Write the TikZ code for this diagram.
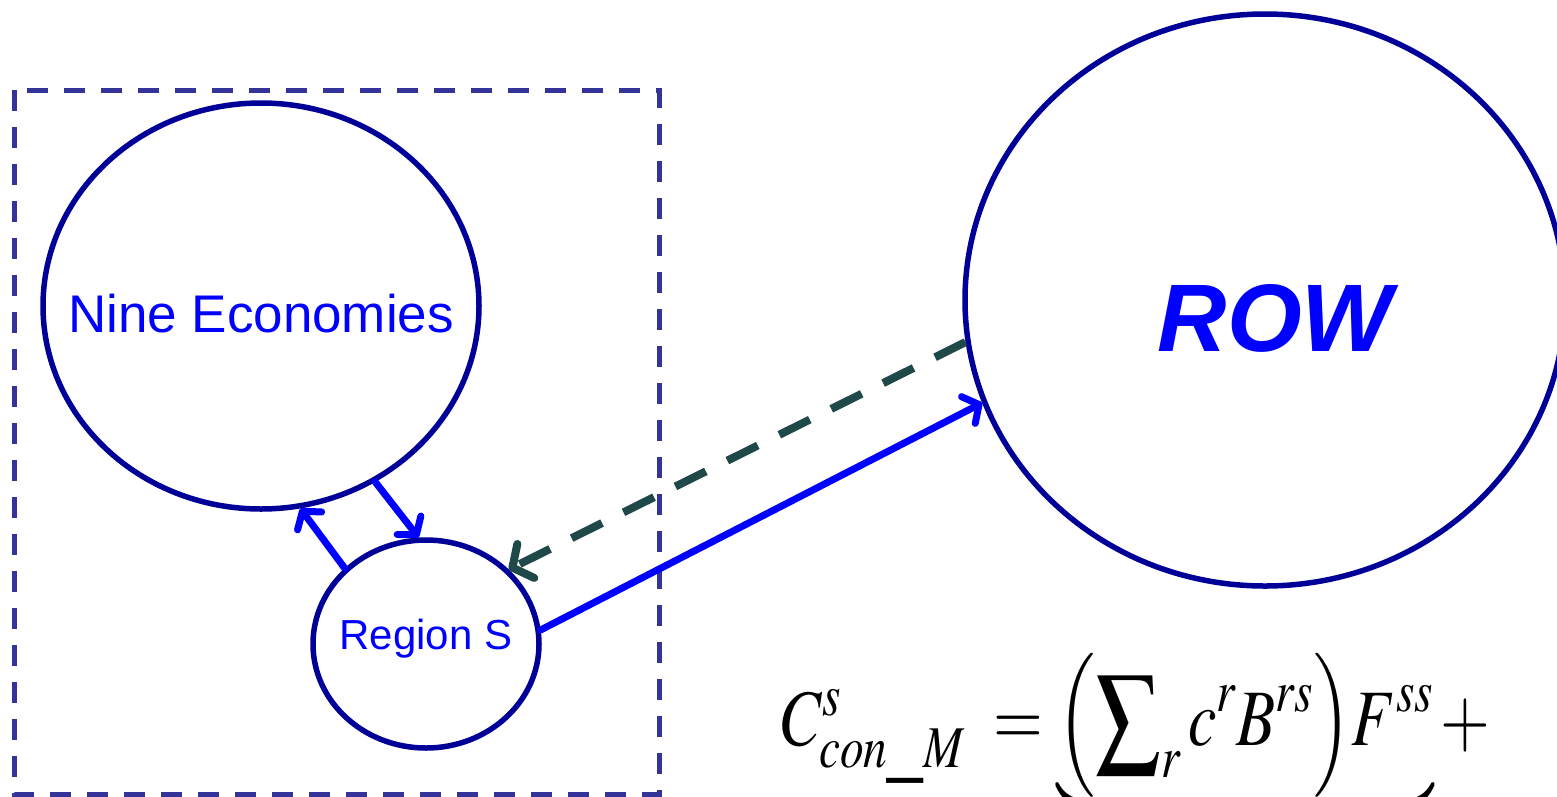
\documentclass[tikz,border=0pt]{standalone}
\usepackage{mathptmx}
\usepackage{fontspec}
\setmainfont{Liberation Sans}
\usetikzlibrary{shapes.geometric,arrows.meta}
\definecolor{ellcol}{RGB}{0,0,153}
\definecolor{boxcol}{RGB}{51,51,153}
\definecolor{txtblue}{RGB}{0,0,255}
\definecolor{dashcol}{RGB}{31,73,72}
\tikzset{
  ell/.style={draw=ellcol, line width=5.5pt, ellipse, inner sep=0pt, text=txtblue},
  bluearrow/.style={draw=txtblue, line width=7pt, line cap=round,
    -{Straight Barb[length=12pt,width=30pt,line cap=round,line join=round]}},
  dasharrow/.style={draw=dashcol, line width=8pt, dash pattern=on 34pt off 24pt,
    -{Straight Barb[length=15pt,width=38pt,line cap=round,line join=round]}},
  groupbox/.style={draw=boxcol, line width=5pt, dash pattern=on 21pt off 16pt}
}
\begin{document}
\begin{tikzpicture}[x=1pt,y=-1pt]
\useasboundingbox (0,0) rectangle (1557,796);
\clip (0,0) rectangle (1557,796);
\fill[white] (0,0) rectangle (1557,796);
\draw[groupbox] (14,90) rectangle (659,794);
\node[ell, minimum width=436pt, minimum height=406pt] (nine) at (261,306) {};
\node[text=txtblue, font=\fontsize{53}{58}\selectfont] (ninelabel) at (261,314) {Nine Economies};
\node[ell, minimum width=226pt, minimum height=208pt] (reg) at (426,644) {};
\node[text=txtblue, font=\fontsize{42}{46}\selectfont] (reglabel) at (426,639) {Region S};
\node[ell, minimum width=600pt, minimum height=572pt] (row) at (1265,300) {};
\node[text=txtblue, font=\fontsize{96}{100}\selectfont\bfseries\itshape] (rowlabel) at (1275,318) {ROW};
\draw[bluearrow] (nine.-57) -- (reg.94);
\draw[bluearrow] (reg.137.6) -- (nine.-79.3);
\draw[bluearrow] (reg.7) -- (row.200.8);
\draw[dasharrow] (row.188) -- (reg.42.8);
\node[anchor=base west, inner sep=0pt, font=\fontsize{80}{90}\selectfont] (formula) at (781,745)
  {\scalebox{0.8}[1]{$C^{s}_{con\_M}\; = \underbrace{\left(\sum\nolimits_{r} c^{r} B^{rs}\right)\! F^{ss}}_{} +$}};
\end{tikzpicture}
\end{document}
